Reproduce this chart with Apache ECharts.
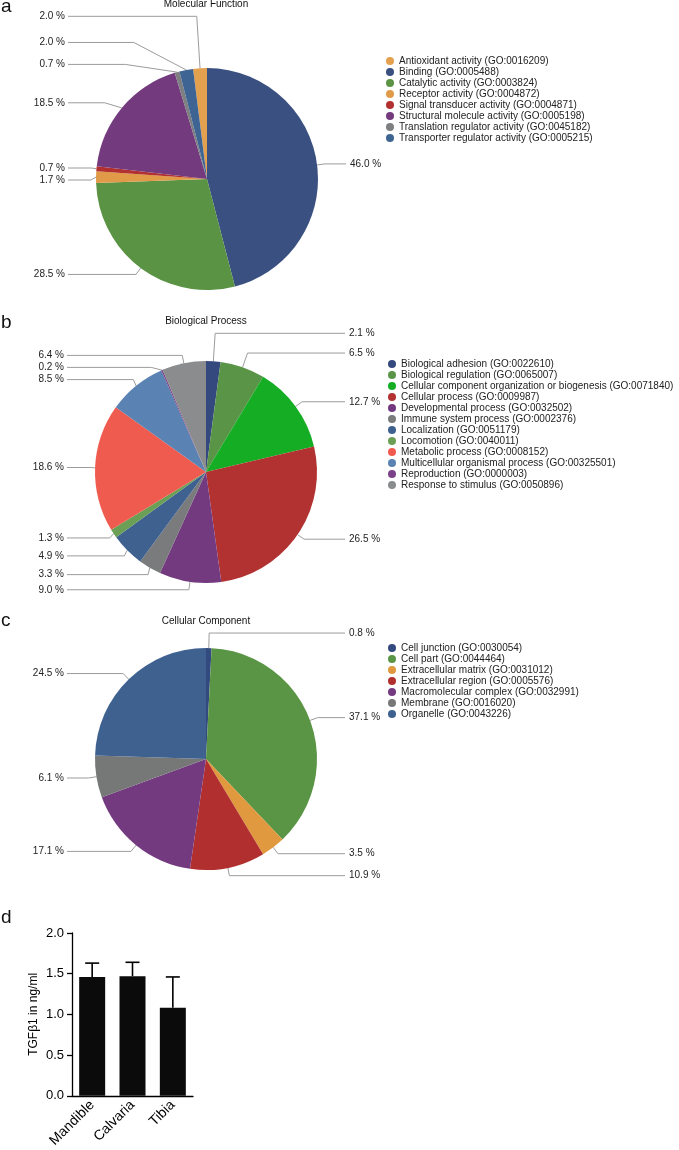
<!DOCTYPE html>
<html>
<head>
<meta charset="utf-8">
<script src="https://cdn.jsdelivr.net/npm/echarts@6/dist/echarts.min.js"></script>
<style>
  html, body { margin: 0; padding: 0; background: #fff; }
  #main { width: 679px; height: 1150px; }
</style>
</head>
<body>
<div id="main"></div>
<script>
// a: Molecular Function
const mfNames = [
  'Antioxidant activity (GO:0016209)',
  'Binding (GO:0005488)',
  'Catalytic activity (GO:0003824)',
  'Receptor activity (GO:0004872)',
  'Signal transducer activity (GO:0004871)',
  'Structural molecule activity (GO:0005198)',
  'Translation regulator activity (GO:0045182)',
  'Transporter regulator activity (GO:0005215)'
];
const mfValues = [2.0, 46.0, 28.5, 1.7, 0.7, 18.5, 0.7, 2.0];
const mfColors = ['#e3a04f', '#3a5080', '#5a9343', '#e09a48', '#b2302f', '#733b7e', '#7d7f80', '#3e6494'];
const mfLineLen = [52, 8, 8, 8, 8, 8, 8, 28];

// b: Biological Process
const bpNames = [
  'Biological adhesion (GO:0022610)',
  'Biological regulation (GO:0065007)',
  'Cellular component organization or biogenesis (GO:0071840)',
  'Cellular process (GO:0009987)',
  'Developmental process (GO:0032502)',
  'Immune system process (GO:0002376)',
  'Localization (GO:0051179)',
  'Locomotion (GO:0040011)',
  'Metabolic process (GO:0008152)',
  'Multicellular organismal process (GO:00325501)',
  'Reproduction (GO:0000003)',
  'Response to stimulus (GO:0050896)'
];
const bpValues = [2.1, 6.5, 12.7, 26.5, 9.0, 3.3, 4.9, 1.3, 18.6, 8.5, 0.2, 6.4];
const bpColors = ['#34497e', '#5a9447', '#14ad24', '#b23131', '#733a80', '#7a7b7c', '#3f6190', '#6a9f55', '#ef5b4f', '#5a82b2', '#7b4289', '#8a8c8e'];
const bpLineLen = [28, 15, 8, 8, 8, 8, 8, 8, 8, 8, 8, 8];

// c: Cellular Component
const ccNames = [
  'Cell junction (GO:0030054)',
  'Cell part (GO:0044464)',
  'Extracellular matrix (GO:0031012)',
  'Extracellular region (GO:0005576)',
  'Macromolecular complex (GO:0032991)',
  'Membrane (GO:0016020)',
  'Organelle (GO:0043226)'
];
const ccValues = [0.8, 37.1, 3.5, 10.9, 17.1, 6.1, 24.5];
const ccColors = ['#334a80', '#5a9545', '#e0993f', '#b22f2f', '#733a80', '#767878', '#3f6190'];
const ccLineLen = [15, 8, 8, 8, 8, 8, 8];

// d: TGFβ1
const barCats = ['Mandible', 'Calvaria', 'Tibia'];
const barMeans = [1.46, 1.47, 1.08];
const barSd = [0.17, 0.17, 0.38];
const yTicks = [0, 0.5, 1.0, 1.5, 2.0];

const font = '"Liberation Sans", Arial, Helvetica, sans-serif';
const chart = echarts.init(document.getElementById('main'));

function pieData(names, values, colors, lens) {
  return names.map(function (n, i) {
    return {
      name: n,
      value: values[i],
      itemStyle: { color: colors[i] },
      labelLine: { length: lens[i] }
    };
  });
}

// labels sit in two columns, line ends aligned
function columnLabels(cx) {
  return function (p) {
    const pts = p.labelLinePoints;
    if (!pts) return {};
    const left = pts[0][0] < cx;
    const endX = left ? cx - 139 : cx + 139;
    return {
      x: left ? endX - 3 : endX + 4,
      align: left ? 'right' : 'left',
      labelLinePoints: [pts[0], pts[1], [endX, pts[2][1]]]
    };
  };
}

function pieSeries(name, data, cx, cy, startAngle) {
  return {
    name: name,
    type: 'pie',
    center: [cx, cy],
    radius: 111,
    startAngle: startAngle,
    clockwise: true,
    animation: false,
    data: data,
    label: {
      formatter: function (p) { return p.value.toFixed(1) + ' %'; },
      fontSize: 10,
      color: '#222',
      fontFamily: font,
      distanceToLabelLine: 3
    },
    labelLine: {
      length: 8,
      length2: 12,
      lineStyle: { color: '#9c9c9c', width: 1 }
    },
    labelLayout: columnLabels(cx),
    emphasis: { disabled: true }
  };
}

function legend(names, left, top) {
  return {
    data: names,
    orient: 'vertical',
    left: left,
    top: top,
    icon: 'circle',
    itemWidth: 8,
    itemHeight: 8,
    itemGap: 1,
    padding: 0,
    selectedMode: false,
    textStyle: { fontSize: 10, color: '#222', fontFamily: font }
  };
}

function txt(text, x, y, size, align) {
  return {
    type: 'text', x: x, y: y,
    style: {
      text: text, fill: '#111',
      font: size + 'px ' + font,
      align: align, verticalAlign: 'middle',
      textAlign: align, textVerticalAlign: 'middle'
    }
  };
}

const option = {
  backgroundColor: '#fff',
  graphic: [
    txt('a', 1, 7, 19, 'left'),
    txt('b', 1, 323, 19, 'left'),
    txt('c', 1, 621, 19, 'left'),
    txt('d', 1, 918, 19, 'left'),
    txt('Molecular Function', 206, 4, 10, 'center'),
    txt('Biological Process', 206, 321, 10, 'center'),
    txt('Cellular Component', 206, 621, 10, 'center')
  ],
  legend: [
    legend(mfNames, 386, 56),
    legend(bpNames, 388, 359),
    legend(ccNames, 388, 643)
  ],
  grid: { left: 72, right: 486, top: 933, bottom: 52 },
  xAxis: {
    type: 'category',
    data: barCats,
    axisLine: { lineStyle: { color: '#000', width: 1.3 } },
    axisTick: { alignWithLabel: true, length: 5, lineStyle: { color: '#000', width: 1.3 } },
    axisLabel: { rotate: 45, fontSize: 14, color: '#000', margin: 7, fontFamily: font }
  },
  yAxis: {
    type: 'value',
    min: yTicks[0],
    max: yTicks[yTicks.length - 1],
    interval: 0.5,
    name: 'TGFβ1 in ng/ml',
    nameLocation: 'middle',
    nameGap: 32,
    nameTextStyle: { fontSize: 12, color: '#000', fontFamily: font },
    axisLine: { show: true, lineStyle: { color: '#000', width: 1.3 } },
    axisTick: { show: true, length: 5, lineStyle: { color: '#000', width: 1.3 } },
    splitLine: { show: false },
    axisLabel: {
      formatter: function (v) { return v.toFixed(1); },
      fontSize: 13, color: '#000', margin: 8, fontFamily: font
    }
  },
  series: [
    pieSeries('Molecular Function', pieData(mfNames, mfValues, mfColors, mfLineLen), 207, 179, 90 + mfValues[0] * 3.6),
    pieSeries('Biological Process', pieData(bpNames, bpValues, bpColors, bpLineLen), 206, 472, 90),
    pieSeries('Cellular Component', pieData(ccNames, ccValues, ccColors, ccLineLen), 206, 759, 90),
    {
      type: 'bar',
      data: barMeans,
      barWidth: 26,
      animation: false,
      itemStyle: { color: '#0b0b0b' }
    },
    {
      type: 'custom',
      animation: false,
      z: 5,
      data: barMeans.map(function (m, i) { return [i, m, barSd[i]]; }),
      renderItem: function (params, api) {
        const i = api.value(0);
        const m = api.value(1);
        const sd = api.value(2);
        const base = api.coord([i, m]);
        const top = api.coord([i, m + sd]);
        const st = { stroke: '#000', lineWidth: 1.6 };
        return {
          type: 'group',
          children: [
            { type: 'line', shape: { x1: base[0], y1: base[1], x2: top[0], y2: top[1] }, style: st },
            { type: 'line', shape: { x1: top[0] - 7, y1: top[1], x2: top[0] + 7, y2: top[1] }, style: st }
          ]
        };
      }
    }
  ]
};

chart.setOption(option);
</script>
</body>
</html>
